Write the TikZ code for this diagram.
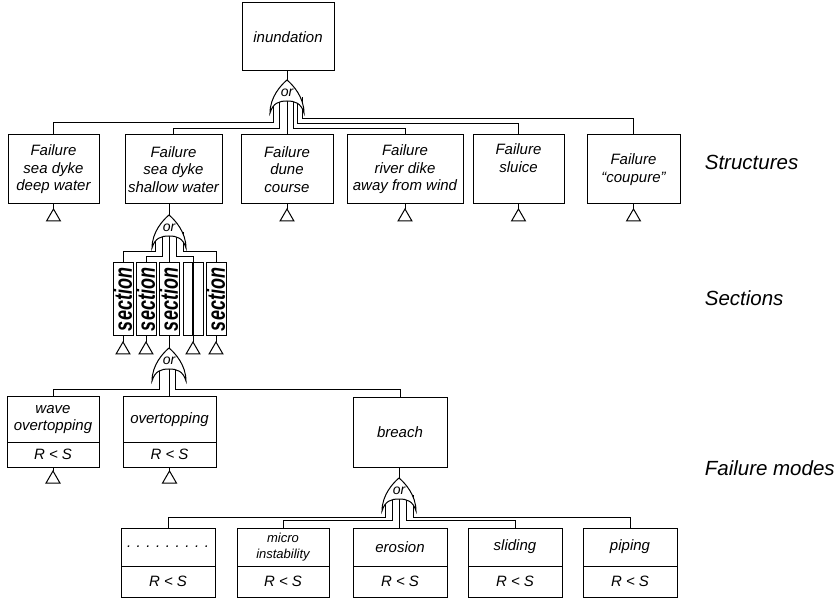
\documentclass[tikz,border=0pt]{standalone}
\usepackage{fontspec}
\setmainfont{Liberation Sans}
\usetikzlibrary{shapes.geometric}
\usetikzlibrary{positioning}

\newcommand{\evfont}{\fontsize{15}{17.5}\selectfont\itshape}
\newcommand{\smallevfont}{\fontsize{13}{16}\selectfont\itshape}

\tikzstyle{event} = [rectangle, draw=black, outer sep=0pt, inner sep=1pt,
text centered, align=center, font=\evfont]
\tikzstyle{limit} = [rectangle, draw=black, outer sep=0pt, inner sep=1pt,
font=\evfont]
\tikzstyle{section} = [rectangle, draw=black, outer sep=0pt, inner sep=0pt,
minimum width=20pt, minimum height=73pt,
font=\fontsize{25}{25}\selectfont\bfseries\itshape]
\tikzstyle{transfer} = [regular polygon, regular polygon sides=3,
draw=black, inner sep=0pt, outer sep=0pt, minimum size=16pt]
\tikzstyle{layer} = [anchor=west, font=\fontsize{20.5}{24}\selectfont\itshape]
\tikzstyle{link} = [draw]
\tikzstyle{gatebody} = [draw, fill=white]
\tikzstyle{gatelabel} = [font=\fontsize{14}{14}\selectfont\itshape, inner sep=0pt]

% or-gate, drawn over the links that run into it
\newcommand{\orgate}[1]{%
  \begin{scope}[shift={(#1)}]
    \path[gatebody] (0,-17) .. controls (6,-12) and (17,0) .. (17,16)
      .. controls (14,6) and (8,4) .. (0,4)
      .. controls (-8,4) and (-14,6) .. (-17,16)
      .. controls (-17,0) and (-6,-12) .. (0,-17) -- cycle;
    \node[gatelabel] at (0,-4) {or};
  \end{scope}}

\begin{document}
\begin{tikzpicture}[x=1pt, y=-1pt, line width=1pt]
\useasboundingbox (0,0) rectangle (838,601);

% top event
\node [event, minimum width=92pt, minimum height=68pt] (inund) at (288,37) {inundation};
\coordinate (g1) at (287,97);

% structures
\node [event, minimum width=91pt, minimum height=69pt] (d1) at (53.5,169.5) {Failure\\sea dyke\\deep water};
\node [event, minimum width=97pt, minimum height=69pt] (d2) at (173.5,169.5) {Failure\\sea dyke\\shallow water};
\node [event, minimum width=92pt, minimum height=69pt] (d3) at (287,169.5) {Failure\\dune\\course};
\node [event, minimum width=116pt, minimum height=69pt] (d4) at (405,169.5) {Failure\\river dike\\away from wind};
\node [event, minimum width=91pt, minimum height=69pt] (d5) at (518.5,169.5) {Failure\\sluice\\\strut};
\node [event, minimum width=93pt, minimum height=69pt] (d6) at (633.5,169.5) {Failure\\“coupure”};

\node [transfer, below=5pt of d1] (td1) {};
\node [transfer, below=5pt of d3] (td3) {};
\node [transfer, below=5pt of d4] (td4) {};
\node [transfer, below=5pt of d5] (td5) {};
\node [transfer, below=5pt of d6] (td6) {};
\coordinate (g2) at (169,232);

% sections
\node [section] (s1) at (123,299.5) {\rotatebox{90}{\scalebox{0.72}[1]{section}}};
\node [section] (s2) at (146,299.5) {\rotatebox{90}{\scalebox{0.72}[1]{section}}};
\node [section] (s3) at (169,299.5) {\rotatebox{90}{\scalebox{0.72}[1]{section}}};
\node [section] (s4) at (193,299.5) {};
\node [section] (s5) at (216,299.5) {\rotatebox{90}{\scalebox{0.72}[1]{section}}};
\path [draw, line width=2.5pt] (s4.north) -- (s4.south);

\node [transfer, below=6pt of s1] (ts1) {};
\node [transfer, below=6pt of s2] (ts2) {};
\node [transfer, below=6pt of s4] (ts4) {};
\node [transfer, below=6pt of s5] (ts5) {};
\coordinate (g3) at (169,365);

% failure modes
\node [event, minimum width=92pt, minimum height=45pt] (m1) at (53,419.5) {wave\\overtopping};
\node [limit, minimum width=92pt, minimum height=25pt, below=0pt of m1] (m1r) {R < S};
\node [event, minimum width=93pt, minimum height=45pt] (m2) at (169.5,419.5) {overtopping};
\node [limit, minimum width=93pt, minimum height=25pt, below=0pt of m2] (m2r) {R < S};
\node [event, minimum width=94pt, minimum height=69pt] (breach) at (400,432.5) {breach};

\node [transfer, below=4pt of m1r] (tm1) {};
\node [transfer, below=4pt of m2r] (tm2) {};
\coordinate (g4) at (399,495);

% breach mechanisms
\node [event, minimum width=94pt, minimum height=38pt] (b1) at (168,547) {. . . . . . . . .};
\node [limit, minimum width=94pt, minimum height=31pt, below=0pt of b1] (b1r) {R < S};
\node [event, minimum width=92pt, minimum height=38pt, font=\smallevfont] (b2) at (283,547) {micro\\instability};
\node [limit, minimum width=92pt, minimum height=31pt, below=0pt of b2] (b2r) {R < S};
\node [event, minimum width=94pt, minimum height=38pt] (b3) at (400,547) {erosion};
\node [limit, minimum width=94pt, minimum height=31pt, below=0pt of b3] (b3r) {R < S};
\node [event, minimum width=94pt, minimum height=38pt] (b4) at (515,547) {sliding};
\node [limit, minimum width=94pt, minimum height=31pt, below=0pt of b4] (b4r) {R < S};
\node [event, minimum width=94pt, minimum height=38pt] (b5) at (630,547) {piping};
\node [limit, minimum width=94pt, minimum height=31pt, below=0pt of b5] (b5r) {R < S};

% levels
\node [layer] (lstruct) at (701,162) {Structures};
\node [layer] (lsect) at (701,298) {Sections};
\node [layer] (lmodes) at (701,468) {Failure modes};

% links
\path [link] (inund.south -| g1) -- (g1);
\path [link] ([xshift=-14pt]g1) |- ([yshift=12pt]d1.north) -- (d1.north);
\path [link] ([xshift=-8pt]g1) |- ([yshift=6pt]d2.north) -- (d2.north);
\path [link] (g1) -- (g1 |- d3.north);
\path [link] ([xshift=6pt]g1) |- ([yshift=6pt]d4.north) -- (d4.north);
\path [link] ([xshift=10pt]g1) |- ([yshift=11pt]d5.north) -- (d5.north);
\path [link] ([xshift=15pt]g1) |- ([yshift=16pt]d6.north) -- (d6.north);
\path [link] (d1) -- (td1);
\path [link] (d3) -- (td3);
\path [link] (d4) -- (td4);
\path [link] (d5) -- (td5);
\path [link] (d6) -- (td6);

\path [link] (d2.south -| g2) -- (g2);
\path [link] ([xshift=-14pt]g2) |- ([yshift=11pt]s1.north) -- (s1.north);
\path [link] ([xshift=-7pt]g2) |- ([yshift=6pt]s2.north) -- (s2.north);
\path [link] (g2) -- (s3.north);
\path [link] ([xshift=7pt]g2) |- ([yshift=6pt]s4.north) -- (s4.north);
\path [link] ([xshift=14pt]g2) |- ([yshift=11pt]s5.north) -- (s5.north);
\path [link] (s1) -- (ts1);
\path [link] (s2) -- (ts2);
\path [link] (s4) -- (ts4);
\path [link] (s5) -- (ts5);

\path [link] (s3) -- (g3);
\path [link] ([xshift=-10pt]g3) |- ([yshift=7pt]m1.north) -- (m1.north);
\path [link] (g3) -- (g3 |- m2.north);
\path [link] ([xshift=6pt]g3) |- ([yshift=8pt]breach.north) -- (breach.north);
\path [link] (m1r) -- (tm1);
\path [link] (m2r) -- (tm2);

\path [link] (breach.south -| g4) -- (g4);
\path [link] ([xshift=-14pt]g4) |- ([yshift=11pt]b1.north) -- (b1.north);
\path [link] ([xshift=-7pt]g4) |- ([yshift=8pt]b2.north) -- (b2.north);
\path [link] (g4) -- (g4 |- b3.north);
\path [link] ([xshift=7pt]g4) |- ([yshift=8pt]b4.north) -- (b4.north);
\path [link] ([xshift=14pt]g4) |- ([yshift=11pt]b5.north) -- (b5.north);

% gates on top
\orgate{g1}
\orgate{g2}
\orgate{g3}
\orgate{g4}

\end{tikzpicture}
\end{document}
